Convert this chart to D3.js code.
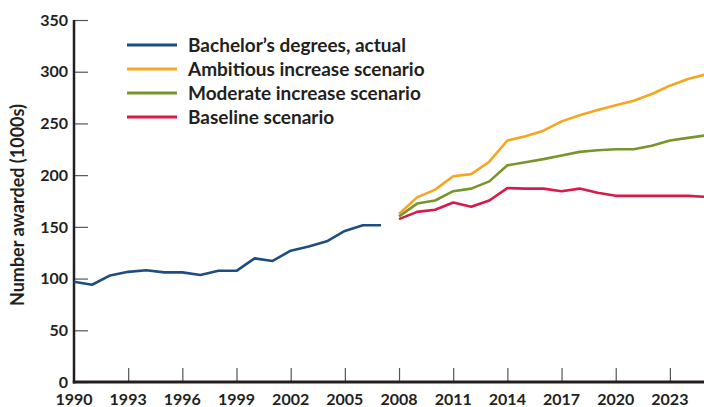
<!DOCTYPE html>
<html>
<head>
<meta charset="utf-8">
<script src="https://cdn.jsdelivr.net/npm/d3@7"></script>
<style>
  body { margin: 0; background: #fff; }
  text { font-family: Lato, "Open Sans", sans-serif; font-weight: bold; fill: #231f20; }
</style>
</head>
<body>
<div id="chart"></div>
<script>
const width = 704
const height = 407

// actual bachelor's degrees (1000s)
const actualYears = d3.range(1990, 2008)
const actualValues = [97, 94, 103, 106.5, 108, 106, 106, 103.5, 107.5, 107.5, 119.5, 117, 127, 131, 136, 146, 151.5, 151.5]

// projection scenarios
const scenarioYears = d3.range(2008, 2026)
const ambitious = [162.5, 178.5, 186, 199, 201, 213, 233.5, 237.5, 243, 252, 258, 263, 267.5, 272, 278.5, 286.5, 293, 297.5]
const moderate = [160, 172.5, 175.5, 184.5, 187, 194, 209.5, 212.5, 215.5, 219, 222.5, 224, 225, 225, 228.5, 233.5, 236, 238.5]
const baseline = [157.5, 164.5, 166.5, 173.5, 169.5, 175.5, 187.5, 187, 187, 184.5, 187, 183, 180, 180, 180, 180, 180, 179]

const seriesNames = ["Bachelor\u2019s degrees, actual", "Ambitious increase scenario", "Moderate increase scenario", "Baseline scenario"]
const seriesColors = ["#1d4e7f", "#f7a51f", "#77952a", "#d81a4b"]

const xTicks = d3.range(1990, 2024, 3)
const yTicks = d3.range(0, 351, 50)

const svg = d3.select("#chart")
    .append("svg")
    .attr("width", width)
    .attr("height", height)

const x = d3.scaleLinear()
    .domain([1990, 2025])
    .range([74, 706])

const y = d3.scaleLinear()
    .domain([0, 350])
    .range([382, 20])

// y axis - ticks point inward
const yAxis = svg.append("g")
    .attr("transform", "translate(" + x(1990) + ",0)")
    .call(d3.axisRight(y).tickValues(yTicks).tickSize(14).tickFormat(""))
yAxis.select(".domain").remove()
yAxis.selectAll(".tick line").attr("stroke", "#555").attr("stroke-width", 1.2)

svg.selectAll(".ylabel")
    .data(yTicks)
    .enter()
    .append("text")
    .attr("class", "ylabel")
    .attr("x", 68)
    .attr("y", d => y(d))
    .attr("dy", "0.36em")
    .attr("text-anchor", "end")
    .style("font-size", "16px")
    .text(d => d)

// x axis - ticks point up
const xAxis = svg.append("g")
    .attr("transform", "translate(0," + y(0) + ")")
    .call(d3.axisTop(x).tickValues(xTicks.slice(1)).tickSize(14).tickFormat(""))
xAxis.select(".domain").remove()
xAxis.selectAll(".tick line").attr("stroke", "#555").attr("stroke-width", 1.2)

svg.selectAll(".xlabel")
    .data(xTicks)
    .enter()
    .append("text")
    .attr("class", "xlabel")
    .attr("x", d => x(d))
    .attr("y", 405)
    .attr("text-anchor", "middle")
    .style("font-size", "16px")
    .text(d => d)

// axis lines
svg.append("line")
    .attr("x1", x(1990)).attr("x2", x(1990))
    .attr("y1", y(350)).attr("y2", y(0) + 1.5)
    .attr("stroke", "#231f20").attr("stroke-width", 2.5)
svg.append("line")
    .attr("x1", x(1990) - 1.2).attr("x2", width)
    .attr("y1", y(0)).attr("y2", y(0))
    .attr("stroke", "#231f20").attr("stroke-width", 3)

svg.append("text")
    .attr("transform", "translate(24,205) rotate(-90)")
    .attr("text-anchor", "middle")
    .style("font-size", "18px")
    .text("Number awarded (1000s)")

const line = d3.line()
    .x(d => x(d[0]))
    .y(d => y(d[1]))

const lines = [
    d3.zip(actualYears, actualValues),
    d3.zip(scenarioYears, ambitious),
    d3.zip(scenarioYears, moderate),
    d3.zip(scenarioYears, baseline)
]

svg.selectAll(".series")
    .data(lines)
    .enter()
    .append("path")
    .attr("class", "series")
    .attr("d", line)
    .attr("fill", "none")
    .attr("stroke", (d, i) => seriesColors[i])
    .attr("stroke-width", 2.6)
    .attr("stroke-linejoin", "round")

// legend
const legend = svg.selectAll(".legend")
    .data(seriesNames)
    .enter()
    .append("g")
    .attr("class", "legend")
    .attr("transform", (d, i) => "translate(127," + (45 + i * 24) + ")")

legend.append("line")
    .attr("x1", 0).attr("x2", 50)
    .attr("stroke", (d, i) => seriesColors[i])
    .attr("stroke-width", 2.8)

legend.append("text")
    .attr("x", 61)
    .attr("dy", "0.36em")
    .style("font-size", "19px")
    .text(d => d)
</script>
</body>
</html>
